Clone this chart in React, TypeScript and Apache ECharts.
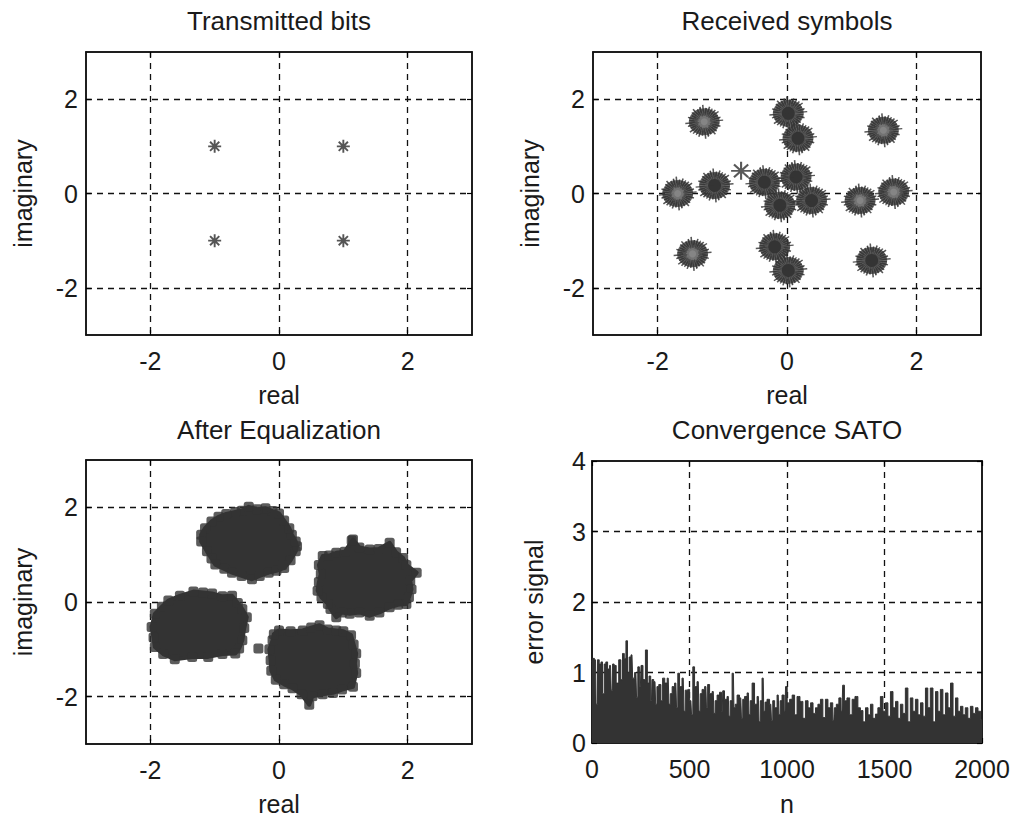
import { useEffect, useRef } from 'react';
import * as echarts from 'echarts';

const FONT = '"Liberation Sans", Arial, Helvetica, sans-serif';
const INK = '#1a1a1a';
const MARK = '#333333';

// ---------- Panel titles and axis names ----------
const panelTitles = ['Transmitted bits', 'Received symbols', 'After Equalization', 'Convergence SATO'];
const iqTicks = [-2, 0, 2];

// ---------- Transmitted bits (QPSK) ----------
const txReal = [-1, 1, -1, 1];
const txImag = [1, 1, -1, -1];

// ---------- Received symbols: cluster centres ----------
const rxDarkReal = [0.02, 0.17, -1.12, -0.35, 0.14, -0.11, 0.38, -0.19, 0.02, 1.31];
const rxDarkImag = [1.70, 1.17, 0.17, 0.24, 0.35, -0.25, -0.15, -1.13, -1.63, -1.42];
const rxLightReal = [-1.28, 1.49, -1.69, 1.65, 1.13, -1.46];
const rxLightImag = [1.52, 1.34, 0.0, 0.03, -0.15, -1.28];
const rxLoneReal = [-0.71];
const rxLoneImag = [0.48];

// ---------- After equalization: outlines of the four point clouds ----------
const eqClusterA: [number, number][] = [
  [-0.47, 2.01], [-0.58, 1.93], [-0.68, 1.9], [-0.82, 1.86], [-0.94, 1.8], [-1.05, 1.7], [-1.15, 1.56],
  [-1.21, 1.42], [-1.21, 1.28], [-1.12, 1.07], [-1.05, 0.92], [-0.99, 0.79], [-0.85, 0.7], [-0.73, 0.62],
  [-0.58, 0.55], [-0.42, 0.48], [-0.3, 0.55], [-0.16, 0.62], [-0.04, 0.66], [0.08, 0.72], [0.18, 0.88],
  [0.26, 1.07], [0.28, 1.18], [0.26, 1.28], [0.2, 1.42], [0.16, 1.56], [0.08, 1.72], [0.0, 1.87],
  [-0.1, 1.92], [-0.21, 1.98], [-0.34, 1.96],
];
const eqClusterB: [number, number][] = [
  [1.15, 1.32], [1.25, 1.15], [1.41, 1.11], [1.55, 1.12], [1.72, 1.25], [1.82, 1.05], [1.93, 0.93],
  [1.98, 0.78], [2.14, 0.62], [2.04, 0.45], [2.06, 0.27], [2.02, 0.1], [1.98, -0.04], [1.85, -0.06],
  [1.72, -0.11], [1.56, -0.22], [1.41, -0.29], [1.25, -0.22], [1.1, -0.25], [0.98, -0.22], [0.89, -0.32],
  [0.8, -0.15], [0.76, -0.04], [0.66, 0.1], [0.6, 0.24], [0.62, 0.42], [0.65, 0.59], [0.62, 0.78],
  [0.68, 0.97], [0.78, 0.98], [0.89, 1.04], [1.02, 1.06],
];
const eqClusterC: [number, number][] = [
  [-1.33, 0.22], [-1.18, 0.2], [-1.04, 0.18], [-0.88, 0.12], [-0.73, 0.13], [-0.64, -0.02], [-0.57, -0.15],
  [-0.5, -0.32], [-0.54, -0.55], [-0.57, -0.81], [-0.62, -0.98], [-0.68, -1.09], [-0.88, -1.1],
  [-1.1, -1.16], [-1.35, -1.16], [-1.62, -1.21], [-1.8, -1.1], [-1.93, -0.95], [-1.95, -0.75],
  [-1.98, -0.53], [-1.93, -0.25], [-1.82, -0.1], [-1.72, 0.03], [-1.54, 0.13],
];
const eqClusterD: [number, number][] = [
  [0.0, -0.6], [0.18, -0.62], [0.37, -0.6], [0.5, -0.54], [0.63, -0.49], [0.76, -0.58], [0.89, -0.6],
  [1.0, -0.62], [1.12, -0.7], [1.16, -0.9], [1.2, -1.09], [1.18, -1.3], [1.2, -1.5], [1.15, -1.79],
  [0.98, -1.85], [0.84, -1.92], [0.68, -1.95], [0.52, -1.99], [0.47, -2.17], [0.35, -1.95],
  [0.21, -1.82], [0.08, -1.74], [-0.05, -1.64], [-0.12, -1.45], [-0.13, -1.23], [-0.15, -1.0],
  [-0.1, -0.81], [-0.08, -0.68],
];
const eqClusterCentres: [number, number][] = [[-0.47, 1.25], [1.34, 0.41], [-1.26, -0.5], [0.52, -1.27]];
const eqOutliers: [number, number][] = [[-0.32, -0.98], [0.05, 0.78], [1.13, 1.3]];

// ---------- Convergence: error signal envelope [n, value] ----------
const errPoints: [number, number][] = [
  [0, 1.15], [7, 1.2], [18, 1.18], [24, 0.55], [32, 1.18], [42, 1.12], [50, 1.15], [58, 0.7],
  [67, 1.12], [75, 1.15], [85, 1.05], [95, 1.1], [102, 0.75], [109, 1.12], [118, 1.1], [130, 0.85],
  [144, 1.18], [152, 0.9], [161, 1.27], [170, 1.2], [178, 1.45], [186, 1.0], [195, 1.22], [205, 1.25],
  [212, 0.92], [225, 1.0], [232, 0.65], [238, 1.08], [248, 0.8], [255, 1.1], [268, 0.9], [280, 1.32],
  [288, 0.85], [297, 0.95], [305, 0.6], [310, 0.9], [323, 0.87], [330, 0.55], [336, 0.8], [349, 0.83],
  [358, 0.6], [366, 0.92], [380, 0.85], [391, 0.92], [398, 0.55], [405, 0.7], [417, 0.8], [430, 0.85],
  [437, 0.5], [443, 0.99], [455, 0.8], [468, 0.92], [475, 0.45], [481, 0.75], [494, 0.76], [507, 0.6],
  [514, 0.4], [520, 1.08], [532, 0.8], [545, 0.87], [552, 0.45], [558, 0.7], [571, 0.76], [584, 0.8],
  [590, 0.5], [596, 0.83], [610, 0.7], [622, 0.73], [628, 0.42], [635, 0.6], [648, 0.68], [660, 0.72],
  [668, 0.45], [673, 0.74], [686, 0.62], [699, 0.66], [705, 0.38], [712, 0.6], [725, 0.99], [731, 0.5],
  [738, 0.55], [750, 0.68], [763, 0.64], [770, 0.35], [776, 0.62], [789, 0.66], [802, 0.71], [808, 0.4],
  [815, 0.6], [827, 0.85], [840, 0.55], [853, 0.66], [860, 0.3], [866, 0.6], [878, 0.92], [884, 0.45],
  [891, 0.58], [904, 0.62], [917, 0.55], [924, 0.32], [930, 0.6], [943, 0.5], [955, 0.68], [962, 0.4],
  [968, 0.6], [981, 0.68], [990, 0.45], [995, 0.8], [1007, 0.57], [1020, 0.62], [1033, 0.68], [1045, 0.4],
  [1058, 0.66], [1075, 0.59], [1088, 0.35], [1101, 0.6], [1115, 0.5], [1127, 0.57], [1140, 0.42], [1152, 0.5],
  [1165, 0.55], [1178, 0.62], [1190, 0.36], [1204, 0.62], [1216, 0.5], [1229, 0.57], [1240, 0.32], [1246, 0.5],
  [1260, 0.55], [1272, 0.64], [1282, 0.45], [1289, 0.82], [1300, 0.6], [1315, 0.64], [1328, 0.4], [1340, 0.62],
  [1357, 0.66], [1370, 0.5], [1383, 0.46], [1396, 0.3], [1409, 0.5], [1422, 0.4], [1434, 0.55], [1447, 0.35],
  [1460, 0.41], [1472, 0.5], [1486, 0.66], [1498, 0.45], [1511, 0.57], [1524, 0.38], [1537, 0.73], [1550, 0.5],
  [1563, 0.59], [1575, 0.35], [1588, 0.55], [1600, 0.42], [1614, 0.78], [1626, 0.3], [1639, 0.64], [1652, 0.45],
  [1665, 0.62], [1678, 0.4], [1691, 0.57], [1704, 0.38], [1716, 0.78], [1728, 0.5], [1742, 0.78], [1755, 0.3],
  [1768, 0.73], [1780, 0.45], [1793, 0.76], [1806, 0.4], [1819, 0.71], [1832, 0.5], [1845, 0.85], [1858, 0.38],
  [1870, 0.64], [1883, 0.45], [1896, 0.52], [1908, 0.4], [1921, 0.5], [1934, 0.35], [1947, 0.52], [1960, 0.42],
  [1973, 0.5], [1986, 0.45], [2000, 0.33],
];

// ---------- marker shapes (style) ----------
const STAR8 = 'path://M0 -1L0 1M-1 0L1 0M-0.71 -0.71L0.71 0.71M-0.71 0.71L0.71 -0.71';
function spikyStar(lengths: number[]): string {
  const n = lengths.length;
  let d = '';
  for (let k = 0; k < n; k++) {
    const a = (Math.PI * k) / n;
    const x = +(Math.cos(a) * lengths[k]).toFixed(3);
    const y = +(Math.sin(a) * lengths[k]).toFixed(3);
    d += `M${-x} ${-y}L${x} ${y}`;
  }
  return 'path://' + d;
}
const SPIKY_A = spikyStar([1, 0.8, 0.9, 0.76, 0.86, 0.95, 0.8, 0.88, 1, 0.82, 0.92, 0.78, 0.9, 0.96, 0.8, 0.86]);
const SPIKY_B = spikyStar([1, 0.86, 0.78, 0.94, 0.82, 0.9, 0.76, 0.92, 1, 0.8, 0.88, 0.84, 0.95, 0.78, 0.9, 0.82]);

const pairs = (xs: number[], ys: number[]) => xs.map((x, i) => [x, ys[i]]);

const grids = [
  { left: 86, top: 52, width: 386, height: 283 },
  { left: 593, top: 52, width: 388, height: 283 },
  { left: 86, top: 460, width: 386, height: 284 },
  { left: 592, top: 461, width: 390, height: 282 },
];

const labelStyle = { fontSize: 25, color: INK, fontFamily: FONT };
const dashLine = { color: '#111', type: [6, 5], width: 1.3 };
const iqSplit = { show: true, lineStyle: dashLine };
const errSplit = { show: true, showMinLine: false, showMaxLine: false, lineStyle: dashLine };
const frameLine = { show: true, onZero: false, lineStyle: { color: '#111', width: 1.5 } };
const tickStyle = { color: '#000', width: 1.2 };
const plain = (v: number) => String(v);

function iqAxis(gridIndex: number, name: string, isY: boolean) {
  return {
    type: 'value',
    gridIndex,
    position: isY ? 'left' : 'bottom',
    min: -3,
    max: 3,
    name,
    nameLocation: 'middle',
    nameGap: isY ? 51 : 47,
    nameTextStyle: { ...labelStyle },
    axisLine: frameLine,
    axisTick: { show: true, inside: true, length: 5, customValues: iqTicks, lineStyle: tickStyle },
    axisLabel: { ...labelStyle, customValues: iqTicks, margin: isY ? 8 : 13, formatter: plain },
    splitLine: iqSplit,
  };
}

// top / right side of each box (MATLAB style frame with mirrored ticks)
function mirrorAxis(gridIndex: number, position: string, range: any) {
  const { custom, ...scale } = range;
  return {
    type: 'value',
    gridIndex,
    position,
    ...scale,
    axisLine: frameLine,
    axisTick: { show: true, inside: true, length: 5, lineStyle: tickStyle, ...(custom ? { customValues: custom } : {}) },
    axisLabel: { show: false },
    splitLine: { show: false },
  };
}

export default function App() {
  const ref = useRef<HTMLDivElement>(null);
  useEffect(() => {
    if (!ref.current) return;
    const chart = echarts.init(ref.current, undefined, { renderer: 'svg' });

    const rxAll = pairs(rxDarkReal, rxDarkImag).concat(pairs(rxLightReal, rxLightImag));
    const eqOutlines = [eqClusterA, eqClusterB, eqClusterC, eqClusterD];
    const eqVertices = ([] as [number, number][]).concat(...eqOutlines);
    const centres = grids.map((g) => g.left + g.width / 2);
    const iqRange = { min: -3, max: 3, custom: iqTicks };

    const option: any = {
      animation: false,
      backgroundColor: '#ffffff',
      title: panelTitles.map((t, i) => ({
        text: t,
        left: centres[i],
        top: i < 2 ? 8 : 417,
        textAlign: 'center',
        padding: 0,
        textStyle: { fontSize: 26, fontWeight: 'normal', color: INK, fontFamily: FONT },
      })),
      grid: grids.map((g) => ({
        ...g,
        show: true,
        borderColor: '#111',
        borderWidth: 1.5,
        backgroundColor: 'transparent',
        containLabel: false,
        outerBoundsMode: 'none',
      })),
      xAxis: [
        iqAxis(0, 'real', false),
        iqAxis(1, 'real', false),
        iqAxis(2, 'real', false),
        {
          type: 'value',
          gridIndex: 3,
          position: 'bottom',
          min: 0,
          max: 2000,
          interval: 500,
          name: 'n',
          nameLocation: 'middle',
          nameGap: 48,
          nameTextStyle: { ...labelStyle },
          axisLine: frameLine,
          axisTick: { show: true, inside: true, length: 5, lineStyle: tickStyle },
          axisLabel: { ...labelStyle, margin: 13, showMinLabel: true, showMaxLabel: true, formatter: plain },
          splitLine: errSplit,
        },
        mirrorAxis(0, 'top', iqRange),
        mirrorAxis(1, 'top', iqRange),
        mirrorAxis(2, 'top', iqRange),
        mirrorAxis(3, 'top', { min: 0, max: 2000, interval: 500 }),
      ],
      yAxis: [
        iqAxis(0, 'imaginary', true),
        iqAxis(1, 'imaginary', true),
        iqAxis(2, 'imaginary', true),
        {
          type: 'value',
          gridIndex: 3,
          position: 'left',
          min: 0,
          max: 4,
          interval: 1,
          name: 'error signal',
          nameLocation: 'middle',
          nameGap: 46,
          nameTextStyle: { ...labelStyle },
          axisLine: frameLine,
          axisTick: { show: true, inside: true, length: 5, lineStyle: tickStyle },
          axisLabel: { ...labelStyle, margin: 6, showMinLabel: true, showMaxLabel: true, formatter: plain },
          splitLine: errSplit,
        },
        mirrorAxis(0, 'right', iqRange),
        mirrorAxis(1, 'right', iqRange),
        mirrorAxis(2, 'right', iqRange),
        mirrorAxis(3, 'right', { min: 0, max: 4, interval: 1 }),
      ],
      series: [
        // Transmitted bits
        {
          type: 'scatter', xAxisIndex: 0, yAxisIndex: 0,
          data: pairs(txReal, txImag),
          symbol: STAR8, symbolSize: 13,
          itemStyle: { color: 'transparent', borderColor: '#2a2a2a', borderWidth: 1.9 },
          silent: true,
        },
        // Received symbols – dense spiky clusters
        {
          type: 'scatter', xAxisIndex: 1, yAxisIndex: 1, data: rxAll,
          symbol: 'circle', symbolSize: [31, 27],
          itemStyle: { color: '#424242' }, silent: true,
        },
        {
          type: 'scatter', xAxisIndex: 1, yAxisIndex: 1, data: rxAll,
          symbol: SPIKY_A, symbolSize: [38, 34], symbolRotate: 5,
          itemStyle: { color: 'transparent', borderColor: '#2e2e2e', borderWidth: 1.5 }, silent: true,
        },
        {
          type: 'scatter', xAxisIndex: 1, yAxisIndex: 1, data: rxAll,
          symbol: SPIKY_B, symbolSize: [34, 31], symbolRotate: 16,
          itemStyle: { color: 'transparent', borderColor: '#3a3a3a', borderWidth: 1.3 }, silent: true,
        },
        {
          type: 'scatter', xAxisIndex: 1, yAxisIndex: 1, data: rxAll,
          symbol: SPIKY_A, symbolSize: [24, 21], symbolRotate: 9,
          itemStyle: { color: 'transparent', borderColor: '#606060', borderWidth: 1 }, silent: true,
        },
        {
          type: 'scatter', xAxisIndex: 1, yAxisIndex: 1, data: pairs(rxLightReal, rxLightImag),
          symbol: SPIKY_B, symbolSize: 14, symbolRotate: 30,
          itemStyle: { color: 'transparent', borderColor: '#7a7a7a', borderWidth: 1.2 }, silent: true,
        },
        {
          type: 'scatter', xAxisIndex: 1, yAxisIndex: 1, data: pairs(rxLightReal, rxLightImag),
          symbol: 'circle', symbolSize: 7,
          itemStyle: { color: '#8a8a8a' }, silent: true,
        },
        {
          type: 'scatter', xAxisIndex: 1, yAxisIndex: 1, data: pairs(rxDarkReal, rxDarkImag),
          symbol: 'circle', symbolSize: 13,
          itemStyle: { color: '#2c2c2c' }, silent: true,
        },
        {
          type: 'scatter', xAxisIndex: 1, yAxisIndex: 1, data: pairs(rxLoneReal, rxLoneImag),
          symbol: STAR8, symbolSize: [20, 18],
          itemStyle: { color: 'transparent', borderColor: '#2f2f2f', borderWidth: 2 }, silent: true,
        },
        // After equalization – filled point clouds
        {
          type: 'custom', xAxisIndex: 2, yAxisIndex: 2,
          data: eqClusterCentres,
          encode: { x: 0, y: 1 },
          clip: true,
          silent: true,
          renderItem: (params: any, api: any) => {
            const outline = eqOutlines[params.dataIndex];
            const points = outline.map((p) => api.coord(p));
            return { type: 'polygon', shape: { points }, style: { fill: MARK, stroke: MARK, lineWidth: 4, lineJoin: 'round' } };
          },
        },
        {
          type: 'scatter', xAxisIndex: 2, yAxisIndex: 2, data: eqVertices.concat(eqOutliers),
          symbol: 'roundRect', symbolSize: 10,
          itemStyle: { color: MARK }, silent: true,
        },
        // Convergence
        {
          type: 'line', xAxisIndex: 3, yAxisIndex: 3, data: errPoints,
          step: 'middle', symbol: 'none', showSymbol: false,
          lineStyle: { color: MARK, width: 1 },
          areaStyle: { color: MARK, opacity: 1 },
          silent: true,
        },
      ],
    };
    chart.setOption(option);
    return () => chart.dispose();
  }, []);

  return (
    <div
      ref={ref}
      style={{ position: 'fixed', left: 0, top: 0, width: 1013, height: 819, background: '#fff' }}
    />
  );
}
